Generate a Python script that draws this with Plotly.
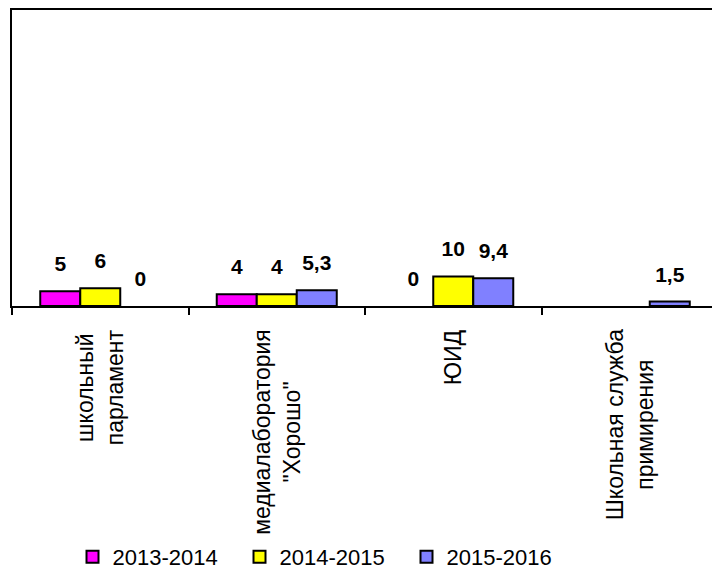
import plotly.graph_objects as go

categories = ["школьный<br>парламент", "медиалаборатория<br>\"Хорошо\"", "ЮИД", "Школьная служба<br>примирения"]
cat_keys = ["c1", "c2", "c3", "c4"]
series_names = ["2013-2014", "2014-2015", "2015-2016"]
v_2013 = [5, 4, 0, None]
v_2014 = [6, 4, 10, None]
v_2015 = [0, 5.3, 9.4, 1.5]
colors = ["#FF00FF", "#FFFF00", "#8080FF"]

FONT = "Arial, 'Liberation Sans', sans-serif"

def fmt(v):
    if v is None:
        return None
    s = ("%g" % v).replace(".", ",")
    return "<b>" + s + "</b>"

fig = go.Figure()
all_vals = [v_2013, v_2014, v_2015]
for name, vals, col in zip(series_names, all_vals, colors):
    fig.add_trace(go.Bar(
        x=cat_keys, y=[v if v else None for v in vals], name=name, offsetgroup=name,
        marker=dict(color=col, line=dict(color="black", width=2)),
        hoverinfo="skip",
    ))
for name, vals in zip(series_names, all_vals):
    fig.add_trace(go.Scatter(
        x=cat_keys, y=vals, mode="markers+text", offsetgroup=name,
        text=[fmt(v) for v in vals], textposition="top center",
        textfont=dict(family=FONT, size=21, color="black"),
        marker=dict(size=22, opacity=0),
        showlegend=False, hoverinfo="skip", cliponaxis=False,
    ))

for key, lab in zip(cat_keys, categories):
    fig.add_annotation(
        x=key, y=0, xref="x", yref="paper", yshift=-21,
        text=lab, textangle=-90, showarrow=False,
        xanchor="center", yanchor="top", align="center",
        font=dict(family=FONT, size=23, color="black"),
    )

# page body has an 8px default margin; positions are shifted to compensate
fig.update_layout(
    template="none",
    width=712, height=571,
    margin=dict(l=4, r=2, t=2, b=273, pad=0),
    paper_bgcolor="white", plot_bgcolor="white",
    barmode="group", bargap=0.32, bargroupgap=0,
    scattermode="group", scattergap=0.32,
    font=dict(family=FONT, color="black"),
    showlegend=True,
    legend=dict(
        orientation="h", xref="container", yref="container",
        x=0.0906, xanchor="left", y=0.0385, yanchor="middle",
        font=dict(family=FONT, size=22, color="black"),
        entrywidth=122, entrywidthmode="pixels",
        bgcolor="rgba(0,0,0,0)", borderwidth=0,
    ),
)
fig.update_xaxes(
    type="category", categoryorder="array", categoryarray=cat_keys,
    showticklabels=False, showline=True, linecolor="black", linewidth=2,
    mirror=True, ticks="outside", tickson="boundaries", ticklen=7,
    tickwidth=2, tickcolor="black", showgrid=False, zeroline=False,
    automargin=False,
)
fig.update_yaxes(
    range=[0, 100], showticklabels=False, showgrid=False, zeroline=False,
    showline=True, linecolor="black", linewidth=2, mirror=True, ticks="",
    automargin=False,
)

fig.write_html("out.html")
